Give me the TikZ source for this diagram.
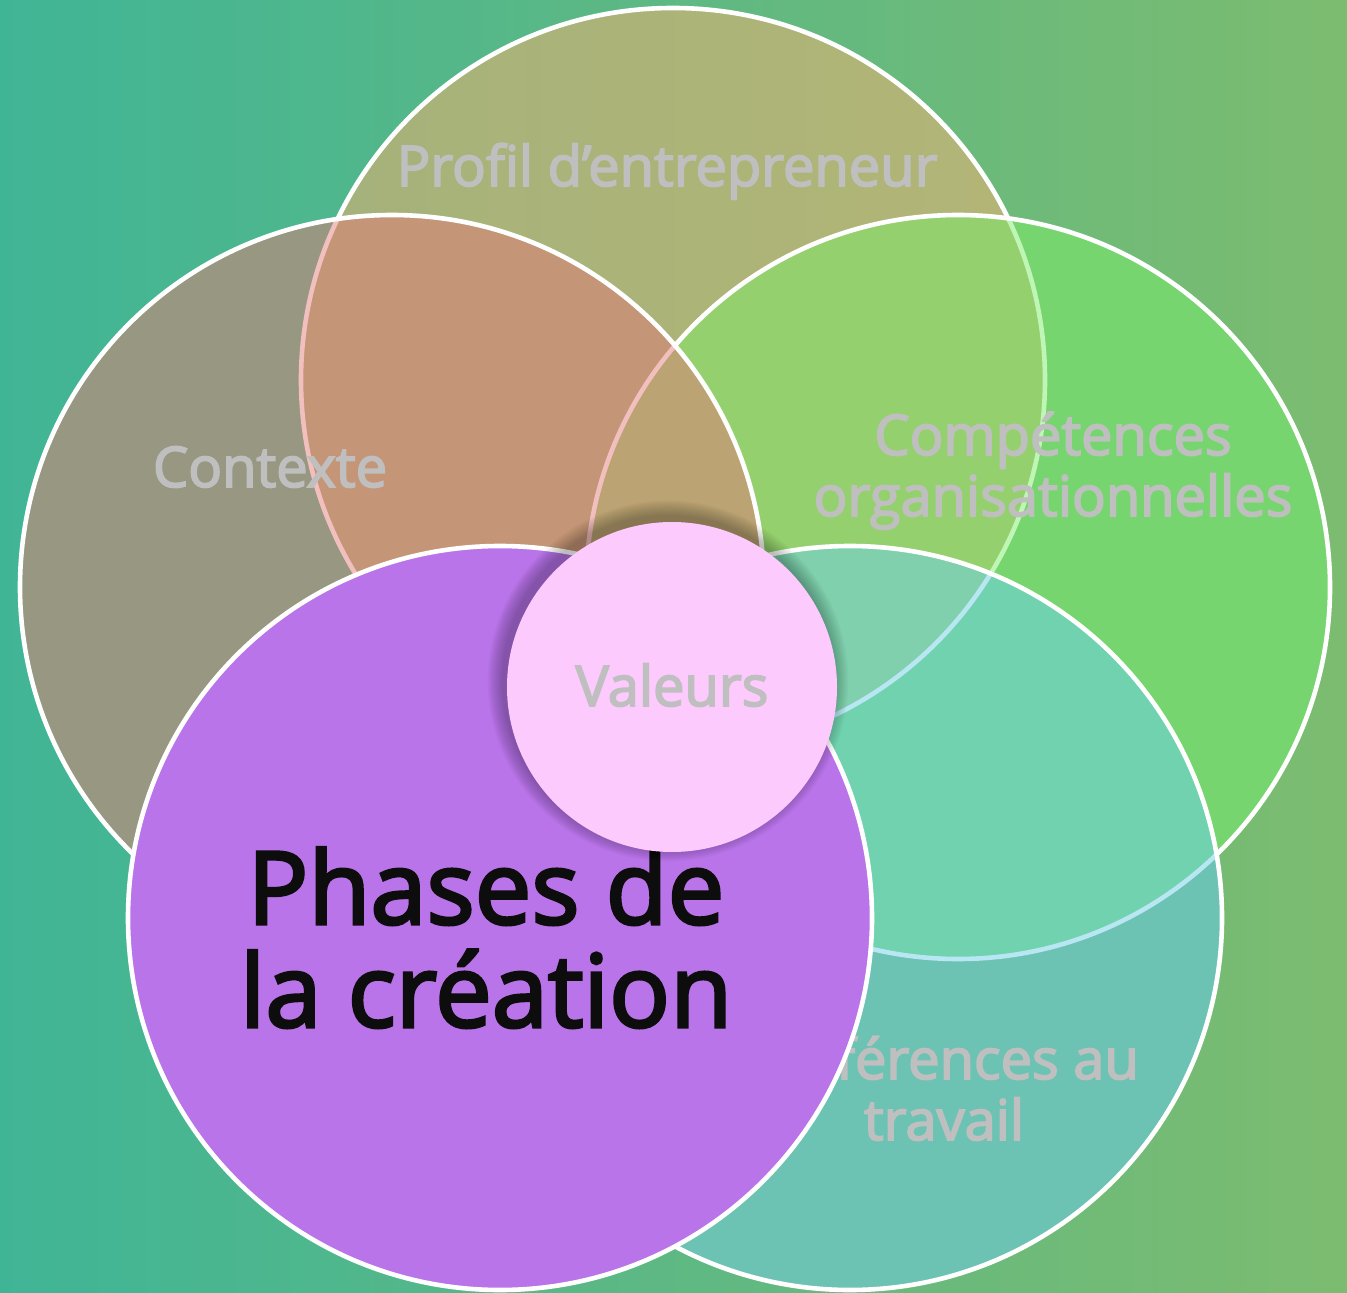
\documentclass[tikz,border=0pt]{standalone}
\usepackage{fontspec}
\newfontfamily\labelfont{Open Sans}[FakeBold=3]
\definecolor{bgleft}{HTML}{40B596}
\definecolor{bgright}{HTML}{7CBC70}
\definecolor{profL}{HTML}{A5B27B}
\definecolor{profR}{HTML}{B3B576}
\definecolor{competC}{HTML}{76D56E}
\definecolor{profcompC}{HTML}{94D16E}
\definecolor{contexteC}{HTML}{979782}
\definecolor{salmonC}{HTML}{C59577}
\definecolor{tanC}{HTML}{BBA373}
\definecolor{prefC}{HTML}{6DC3B3}
\definecolor{prefcompC}{HTML}{71D2AF}
\definecolor{preftopC}{HTML}{80D0AE}
\definecolor{phasesC}{HTML}{B874E8}
\definecolor{valeursC}{HTML}{FCCAFC}
\definecolor{labelgray}{HTML}{BFBFBF}
\definecolor{phasestext}{HTML}{0D0D0D}
\definecolor{greenring}{HTML}{BFF5B5}
\definecolor{pinkring}{HTML}{F2BFBF}
\definecolor{bluering}{HTML}{B8E6F2}
\begin{document}
\begin{tikzpicture}[x=0.5pt,y=-0.5pt,
    ring/.style={draw=white,line width=2.3pt},
    tag/.style={font=\labelfont\fontsize{28}{30.5}\selectfont,text=labelgray,
      align=center,anchor=base,inner sep=0pt}]
    \useasboundingbox (0,0) rectangle (1347,1293);
    \fill[left color=bgleft,right color=bgright] (0,0) rectangle (1347,1293);
    \def\R{372}
    \coordinate (profil) at (673,380);
    \coordinate (compet) at (958,587);
    \coordinate (contexte) at (392,587);
    \coordinate (prefs) at (850,918);
    \coordinate (phases) at (500,918);
    \coordinate (valeurs) at (672,687);
    % profil d'entrepreneur
    \fill[left color=profL,right color=profR] (profil) circle [radius=\R];
    \draw[ring] (profil) circle [radius=\R];
    % competences
    \fill[competC] (compet) circle [radius=\R];
    \begin{scope}
        \clip (compet) circle [radius=\R];
        \fill[profcompC] (profil) circle [radius=\R];
        \draw[ring,draw=greenring] (profil) circle [radius=\R];
    \end{scope}
    \draw[ring] (compet) circle [radius=\R];
    % contexte
    \fill[contexteC] (contexte) circle [radius=\R];
    \begin{scope}
        \clip (contexte) circle [radius=\R];
        \fill[salmonC] (profil) circle [radius=\R];
        \fill[tanC] (compet) circle [radius=\R];
        \draw[ring,draw=pinkring] (profil) circle [radius=\R];
        \draw[ring,draw=pinkring] (compet) circle [radius=\R];
    \end{scope}
    \draw[ring] (contexte) circle [radius=\R];
    % preferences
    \fill[prefC] (prefs) circle [radius=\R];
    \begin{scope}
        \clip (prefs) circle [radius=\R];
        \fill[prefcompC] (compet) circle [radius=\R];
        \begin{scope}
            \clip (compet) circle [radius=\R];
            \fill[preftopC] (profil) circle [radius=\R];
        \end{scope}
        \draw[ring,draw=bluering] (compet) circle [radius=\R];
        \draw[ring,draw=bluering] (profil) circle [radius=\R];
        \draw[ring,draw=bluering] (contexte) circle [radius=\R];
    \end{scope}
    \draw[ring] (prefs) circle [radius=\R];
    \node[tag] (profiltxt) at (667,186) {Profil d’entrepreneur};
    \node[tag] (contextetxt) at (270,487) {Contexte};
    \node[tag] (competxt) at (1053,516) {Compétences\\organisationnelles};
    \node[tag] (prefstxt) at (944,1140) {Préférences au\\travail};
    % phases
    \filldraw[fill=phasesC,ring] (phases) circle [radius=\R];
    \node[tag,text=phasestext,font=\labelfont\fontsize{50.5}{51.5}\selectfont]
        (phasestxt) at (486,1027) {Phases de\\la création};
    % valeurs
    \foreach \s in {1,...,14}
        \fill[black,opacity=0.02] ([shift={(-4,-6)}]valeurs) circle [radius=165+1.1*\s];
    \fill[valeursC] (valeurs) circle [radius=165];
    \node[tag] (valeurstxt) at (672,706) {Valeurs};
\end{tikzpicture}
\end{document}
